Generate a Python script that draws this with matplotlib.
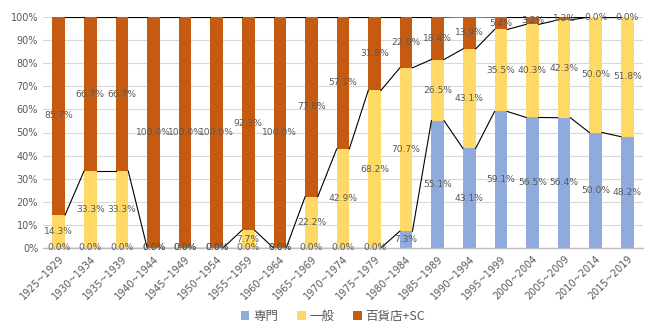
import numpy as np
import matplotlib.pyplot as plt
from matplotlib.ticker import PercentFormatter

plt.rcParams['font.family'] = ['DejaVu Sans', 'Noto Sans CJK JP']

periods = ["1925~1929", "1930~1934", "1935~1939", "1940~1944", "1945~1949",
           "1950~1954", "1955~1959", "1960~1964", "1965~1969", "1970~1974",
           "1975~1979", "1980~1984", "1985~1989", "1990~1994", "1995~1999",
           "2000~2004", "2005~2009", "2010~2014", "2015~2019"]
senmon = [0.0, 0.0, 0.0, 0.0, 0.0, 0.0, 0.0, 0.0, 0.0, 0.0,
          0.0, 7.3, 55.1, 43.1, 59.1, 56.5, 56.4, 50.0, 48.2]
ippan = [14.3, 33.3, 33.3, 0.0, 0.0, 0.0, 7.7, 0.0, 22.2, 42.9,
         68.2, 70.7, 26.5, 43.1, 35.5, 40.3, 42.3, 50.0, 51.8]
hyakkaten = [85.7, 66.7, 66.7, 100.0, 100.0, 100.0, 92.3, 100.0, 77.8, 57.1,
             31.8, 22.0, 18.4, 13.9, 5.4, 3.2, 1.3, 0.0, 0.0]
series_names = ["専門", "一般", "百貨店+SC"]
colors = ["#8FAADC", "#FFD966", "#C55A11"]
series = [senmon, ippan, hyakkaten]

text_color = "#595959"
fig = plt.figure(figsize=(6.49, 3.22), dpi=100)
ax = fig.add_axes([43 / 649, 1 - 248 / 322, 600 / 649, 231 / 322])

x = np.arange(len(periods))
width = 0.4
bottom = np.zeros(len(periods))
handles = []
for name, vals, col in zip(series_names, series, colors):
    vals = np.array(vals, dtype=float)
    h = ax.bar(x, vals, width, bottom=bottom, color=col, label=name, zorder=2)
    handles.append(h)
    top = bottom + vals
    # series lines joining the tops of neighbouring segments
    for i in range(len(x) - 1):
        ax.plot([x[i] + width / 2, x[i + 1] - width / 2], [top[i], top[i + 1]],
                color="black", lw=0.8, zorder=3)
    for xi, b, v in zip(x, bottom, vals):
        ax.text(xi, b + v / 2, f"{v:.1f}%", ha="center", va="center",
                fontsize=6.6, color=text_color, zorder=4)
    bottom = top

ax.set_xlim(-0.5, len(periods) - 0.5)
ax.set_ylim(0, 100)
ax.set_yticks(np.arange(0, 101, 10))
ax.yaxis.set_major_formatter(PercentFormatter(decimals=0))
ax.set_xticks(x)
ax.set_xticklabels(periods, rotation=45, ha="right", rotation_mode="anchor")
ax.tick_params(axis="both", length=0, labelsize=7, colors=text_color)
ax.tick_params(axis="x", pad=4)
ax.grid(axis="y", color="#D9D9D9", lw=0.8, zorder=0)
ax.set_axisbelow(True)
for s in ["top", "right", "left"]:
    ax.spines[s].set_visible(False)
ax.spines["bottom"].set_color("#BFBFBF")
ax.spines["bottom"].set_linewidth(1.0)

fig.legend(handles=handles, labels=series_names, loc="center",
           bbox_to_anchor=(333 / 649, 1 - 316 / 322), ncol=3, frameon=False,
           handlelength=0.7, handleheight=0.7, handletextpad=0.3,
           columnspacing=1.5, labelcolor=text_color,
           prop={"family": ["Noto Sans CJK JP", "DejaVu Sans"], "size": 9})

fig.savefig("out.png", dpi=100)
